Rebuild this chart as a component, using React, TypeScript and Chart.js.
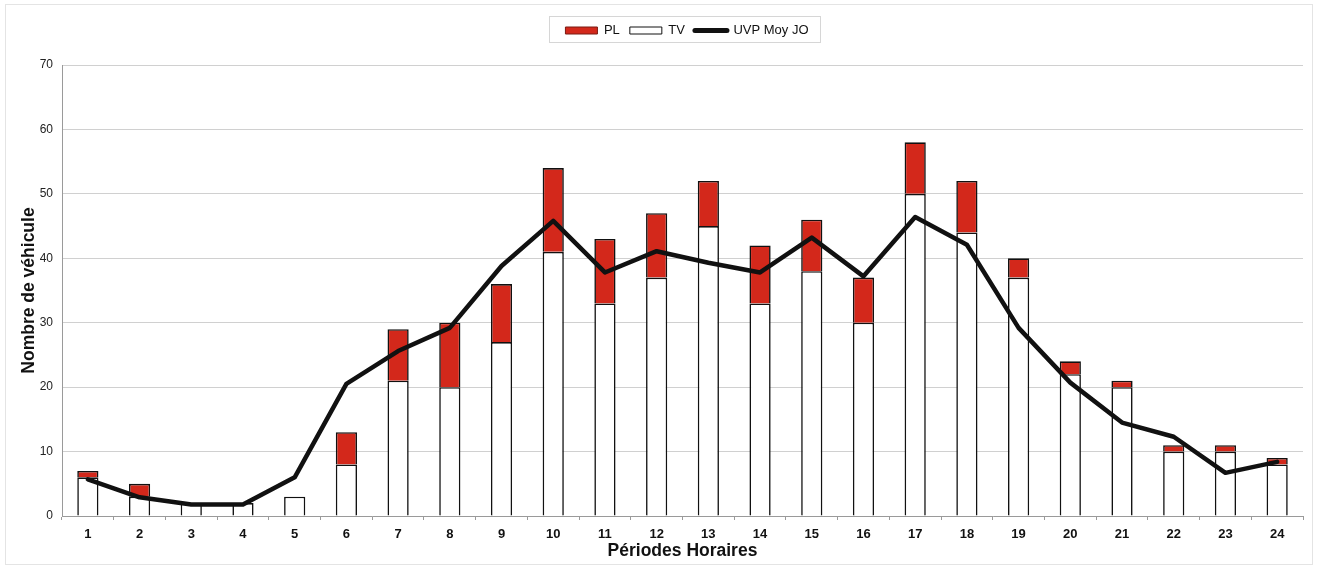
import React, { useEffect, useRef } from "react";
import { Chart, registerables } from "chart.js";

Chart.register(...registerables);

const periods = ["1", "2", "3", "4", "5", "6", "7", "8", "9", "10", "11", "12", "13", "14", "15", "16", "17", "18", "19", "20", "21", "22", "23", "24"];
const tvValues = [6, 3, 2, 2, 3, 8, 21, 20, 27, 41, 33, 37, 45, 33, 38, 30, 50, 44, 37, 22, 20, 10, 10, 8];
const plValues = [1, 2, 0, 0, 0, 5, 8, 10, 9, 13, 10, 10, 7, 9, 8, 7, 8, 8, 3, 2, 1, 1, 1, 1];
const uvpValues = [5.7, 2.9, 1.8, 1.8, 6.0, 20.5, 25.6, 29.2, 38.8, 45.8, 37.8, 41.1, 39.3, 37.8, 43.2, 37.2, 46.4, 42.1, 29.2, 20.7, 14.5, 12.3, 6.7, 8.4];
const yTicks = [0, 10, 20, 30, 40, 50, 60, 70];

const RED = "#d3281b";
const FONT = "'Liberation Sans', Arial, sans-serif";

const legendTweaks = {
  id: "legendTweaks",
  afterInit(chart: any) {
    const lg = chart.legend;
    if (!lg || lg.__patched) return;
    const origFit = lg.fit.bind(lg);
    lg.fit = () => {
      origFit();
      lg.height += 18;
    };
    lg.__patched = true;
  },
  afterUpdate(chart: any) {
    const lg = chart.legend;
    const ca = chart.chartArea;
    if (!lg || !ca) return;
    const boxes = lg.legendHitBoxes;
    if (!boxes || !boxes.length) return;
    const l = Math.min(...boxes.map((b: any) => b.left));
    const r = Math.max(...boxes.map((b: any) => b.left + b.width));
    const shift = Math.round((ca.left + ca.right) / 2 - (l + r) / 2) + 4;
    lg.left += shift;
    lg.right += shift;
    lg.adjustHitBoxes();
  },
  afterDraw(chart: any) {
    const lg = chart.legend;
    const boxes = lg && lg.legendHitBoxes;
    if (!boxes || !boxes.length) return;
    const left = Math.min(...boxes.map((b: any) => b.left)) - 16;
    const right = Math.max(...boxes.map((b: any) => b.left + b.width)) + 12;
    const cy = lg.top + 15;
    const top = cy - 13;
    const bottom = cy + 13;
    const ctx = chart.ctx;
    ctx.save();
    ctx.strokeStyle = "#d6d6d6";
    ctx.lineWidth = 1;
    ctx.strokeRect(Math.round(left) + 0.5, Math.round(top) + 0.5, Math.round(right - left), Math.round(bottom - top));
    ctx.restore();
  },
};

export default function App() {
  const ref = useRef<HTMLCanvasElement | null>(null);

  useEffect(() => {
    if (!ref.current) return;
    const legendRank: Record<string, number> = { PL: 0, TV: 1, "UVP Moy JO": 2 };
    const chart = new Chart(ref.current, {
      type: "bar",
      data: {
        labels: periods,
        datasets: [
          {
            type: "bar",
            label: "TV",
            data: tvValues,
            backgroundColor: "#ffffff",
            borderColor: "#111111",
            borderWidth: 1.6,
            stack: "s",
            order: 1,
            barPercentage: 0.41,
            categoryPercentage: 1,
          },
          {
            type: "bar",
            label: "PL",
            data: plValues,
            backgroundColor: RED,
            borderColor: "#111111",
            borderWidth: 1.6,
            stack: "s",
            order: 1,
            barPercentage: 0.41,
            categoryPercentage: 1,
          },
          {
            type: "line",
            label: "UVP Moy JO",
            data: uvpValues,
            borderColor: "#111111",
            backgroundColor: "#111111",
            borderWidth: 4.5,
            pointRadius: 0,
            tension: 0,
            borderJoinStyle: "round",
            borderCapStyle: "round",
            order: 0,
          } as any,
        ],
      },
      options: {
        animation: false,
        responsive: false,
        maintainAspectRatio: false,
        layout: { padding: { left: 15, right: 21, top: 14, bottom: 5 } },
        plugins: {
          tooltip: { enabled: false },
          legend: {
            position: "top",
            labels: {
              usePointStyle: true,
              pointStyleWidth: 32,
              boxHeight: 7,
              padding: 10,
              color: "#111111",
              font: { family: FONT, size: 13 },
              sort: (a: any, b: any) => legendRank[a.text] - legendRank[b.text],
              generateLabels: (c: any) =>
                c.data.datasets.map((ds: any, i: number) => {
                  const isLine = ds.type === "line";
                  return {
                    text: ds.label,
                    datasetIndex: i,
                    hidden: false,
                    fillStyle: isLine ? "#111111" : ds.backgroundColor,
                    strokeStyle: isLine ? "#111111" : ds.label === "PL" ? "#7a1a12" : "#111111",
                    lineWidth: isLine ? 5 : 1,
                    lineCap: isLine ? "round" : "butt",
                    pointStyle: isLine ? "line" : "rect",
                    fontColor: "#111111",
                  };
                }),
            },
          },
        },
        scales: {
          x: {
            stacked: true,
            offset: true,
            grid: { display: true, drawOnChartArea: false, drawTicks: true, tickLength: 4, offset: true, color: "#9a9a9a" },
            border: { display: true, color: "#9a9a9a" },
            ticks: { color: "#111111", font: { family: FONT, size: 13, weight: "bold" }, padding: 7, maxRotation: 0 },
            title: {
              display: true,
              text: "Périodes Horaires",
              color: "#111111",
              font: { family: FONT, size: 17.5, weight: "bold" },
              padding: { top: 0, bottom: 3 },
            },
            afterFit: (s: any) => {
              s.height = 49;
            },
          },
          y: {
            stacked: true,
            min: 0,
            max: 70,
            afterBuildTicks: (s: any) => {
              s.ticks = yTicks.map((v) => ({ value: v }));
            },
            grid: { color: "#d0d0d0", lineWidth: 1, drawTicks: false },
            border: { display: true, color: "#9a9a9a" },
            ticks: { color: "#222222", font: { family: FONT, size: 12 }, padding: 9 },
            title: {
              display: true,
              text: "Nombre de véhicule",
              color: "#111111",
              font: { family: FONT, size: 17.5, weight: "bold" },
              padding: { top: 4, bottom: 4 },
            },
            afterFit: (s: any) => {
              s.width = 47;
            },
          },
        },
      },
      plugins: [legendTweaks],
    } as any);
    return () => chart.destroy();
  }, []);

  return (
    <div style={{ position: "fixed", left: 0, top: 0, width: 1324, height: 570, background: "#ffffff" }}>
      <div style={{ position: "absolute", left: 5, top: 4, width: 1308, height: 561, border: "1px solid #e4e4e4", boxSizing: "border-box" }} />
      <canvas ref={ref} width={1324} height={570} style={{ position: "absolute", left: 0, top: 0 }} />
    </div>
  );
}
